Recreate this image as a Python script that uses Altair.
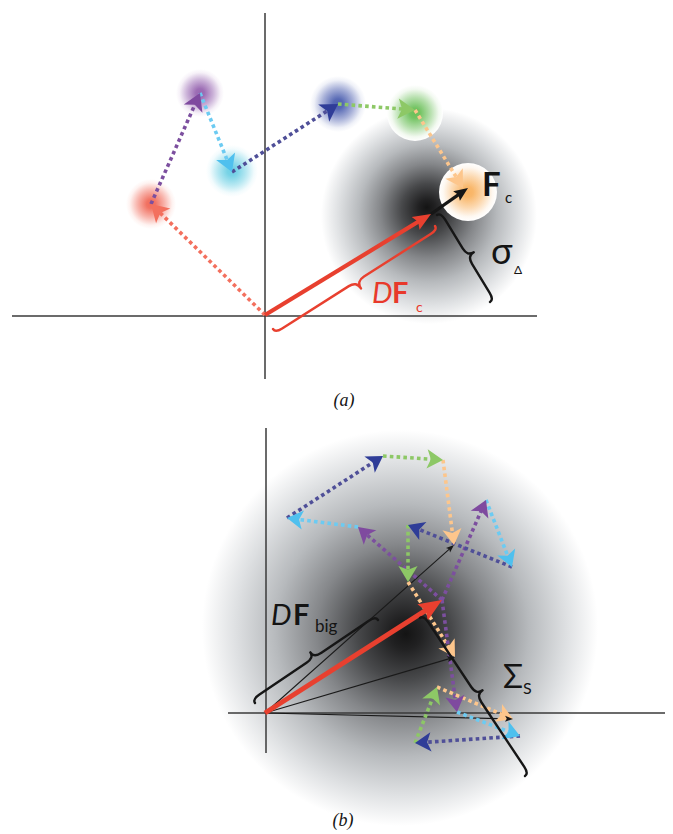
import math
import pandas as pd
import altair as alt

W, H = 657, 824
OX, OY = 8, 8

# ---------------- data (image pixel coordinates) ----------------
# axis lines: panel (a) horizontal, vertical; panel (b) horizontal, vertical
AX_X1 = [12, 265, 228, 266]
AX_Y1 = [316, 13, 713, 428]
AX_X2 = [537, 265, 671, 266]
AX_Y2 = [316, 379, 713, 753]

# big grey clouds
GRAY_X = [429, 400]
GRAY_Y = [216, 628]
GRAY_R = [108, 198]
GRAY_FX = [0.49, 0.515]
GRAY_FY = [0.46, 0.515]

# coloured soft discs of panel (a)
BLOB_X = [151, 200, 232, 338, 415, 468]
BLOB_Y = [204, 93, 171, 104, 113, 192]
BLOB_R = [25, 24, 26, 28, 28, 29]
BLOB_C = ["#ef5a48", "#8c55a8", "#5fcbe2", "#3b50a8", "#5ab846", "#f8ab52"]

# step colours: red, purple, cyan, slate, green, orange
STEP_LINE = ["#f3705e", "#7c4f9f", "#6ccbf2", "#4f4f98", "#8dc866", "#fdc68c"]
STEP_HEAD = ["#f3705e", "#7f4a9f", "#4fc0ee", "#2f3d98", "#8dc866", "#fdc68c"]

# random walk of panel (a), starting at the origin
WALK_A_X = [265, 151, 200, 232, 338, 415, 463]
WALK_A_Y = [315, 204, 93, 172, 104, 110, 188]

# three walks of panel (b), all starting at the tip of the red arrow
WALK_B1_X = [442, 358, 287, 383, 443, 454]
WALK_B1_Y = [600, 527, 518, 456, 460, 545]
WALK_B2_X = [442, 486, 512, 408, 408, 455]
WALK_B2_Y = [600, 500, 567, 525, 582, 657]
WALK_B3_X = [442, 457, 520, 415, 437, 513]
WALK_B3_Y = [600, 712, 736, 743, 687, 719]

# solid arrows: red (a), black (a), red (b)
SOLID_X1 = [265, 431, 265]
SOLID_Y1 = [315, 214, 713]
SOLID_X2 = [431, 468, 442]
SOLID_Y2 = [214, 188, 600]
SOLID_C = ["#e8402f", "#161616", "#e8402f"]
SOLID_W = [4.2, 3.2, 5.0]
SOLID_HEAD = [18, 14, 23]

# thin black arrows of panel (b) from the origin
THIN_X0, THIN_Y0 = 265, 713
THIN_X2 = [454, 455, 513]
THIN_Y2 = [545, 657, 719]

# curly braces: end points, colour, depth
BR_X1 = [435, 437, 255, 420]
BR_Y1 = [226, 215, 703, 618]
BR_X2 = [273, 490, 378, 525]
BR_Y2 = [329, 302, 620, 776]
BR_C = ["#e8402f", "#161616", "#161616", "#161616"]
BR_DEPTH = [13, 12, 11, 12]

# labels: text, x, y(baseline), size, weight, style, colour, font, align
LABELS = [
    ("F", 482, 196, 33, "bold", "normal", "#141414", "Lato", "left"),
    ("c", 505, 203, 15, "normal", "normal", "#141414", "Lato", "left"),
    ("σ", 491, 264, 36, "normal", "normal", "#141414", "Lato, DejaVu Sans", "left"),
    ("Δ", 514, 274, 12, "normal", "normal", "#141414", "Lato, DejaVu Sans", "left"),
    ("D", 372, 303, 29, "normal", "italic", "#e8392b", "Lato", "left"),
    ("F", 392, 303, 29, "bold", "normal", "#e8392b", "Lato", "left"),
    ("c", 416, 312, 14, "normal", "normal", "#e8392b", "Lato", "left"),
    ("(a)", 344, 406, 18, "normal", "italic", "#141414", "Liberation Serif", "center"),
    ("D", 271, 625, 29, "normal", "italic", "#141414", "Lato", "left"),
    ("F", 293, 625, 29, "bold", "normal", "#141414", "Lato", "left"),
    ("big", 315, 632, 17, "normal", "normal", "#141414", "Lato", "left"),
    ("Σ", 503, 688, 33, "normal", "normal", "#141414", "Lato, DejaVu Sans", "left"),
    ("S", 523, 694, 16, "normal", "normal", "#141414", "Lato", "left"),
    ("(b)", 343, 826, 18, "normal", "italic", "#141414", "Liberation Serif", "center"),
]

GRAY_STOPS = [(0.0, "#141414"), (0.08, "#212122"), (0.24, "#48494b"),
              (0.44, "#85878a"), (0.64, "#b7babd"), (0.84, "#dfe1e3"), (1.0, "#ffffff")]

# ---------------- helpers ----------------
xs = alt.Scale(domain=[OX, OX + W], nice=False, zero=False)
ys = alt.Scale(domain=[OY, OY + H], nice=False, zero=False, reverse=True)


def X(f):
    return alt.X(f, type="quantitative", scale=xs, axis=None)


def Y(f):
    return alt.Y(f, type="quantitative", scale=ys, axis=None)


def mix(c, t):
    r, g, b = int(c[1:3], 16), int(c[3:5], 16), int(c[5:7], 16)
    r, g, b = [round(v + (255 - v) * t) for v in (r, g, b)]
    return "#%02x%02x%02x" % (r, g, b)


def unit(x1, y1, x2, y2):
    dx, dy = x2 - x1, y2 - y1
    L = math.hypot(dx, dy)
    return dx / L, dy / L, L


def head_angle(ux, uy):
    return (math.degrees(math.atan2(ux, -uy)) + 360) % 360


DART = "M0,0 L0.6,1 L0,0.76 L-0.6,1 Z"
SOLID_SHAPE = "M0,0 L0.42,1 L0,0.84 L-0.42,1 Z"
THIN_SHAPE = "M0,0 L0.38,1 L0,0.78 L-0.38,1 Z"

layers = []

# grey clouds
for gx, gy, gr, fx, fy in zip(GRAY_X, GRAY_Y, GRAY_R, GRAY_FX, GRAY_FY):
    grad = alt.RadialGradient(
        gradient="radial",
        stops=[alt.GradientStop(offset=o, color=c) for o, c in GRAY_STOPS],
        x1=fx, y1=fy, r1=0, x2=0.5, y2=0.5, r2=0.5)
    layers.append(alt.Chart(pd.DataFrame({"x": [gx], "y": [gy]})).mark_circle(
        fill=grad, size=(2 * gr) ** 2, opacity=1, strokeWidth=0
    ).encode(x=X("x"), y=Y("y")))

# coloured discs
for bx, by, br, bc in zip(BLOB_X, BLOB_Y, BLOB_R, BLOB_C):
    stops = [(0.0, mix(bc, 0.1)), (0.18, mix(bc, 0.15)), (0.55, mix(bc, 0.55)),
             (0.85, mix(bc, 0.92)), (1.0, "#ffffff")]
    grad = alt.RadialGradient(
        gradient="radial",
        stops=[alt.GradientStop(offset=o, color=c) for o, c in stops],
        x1=0.5, y1=0.5, r1=0, x2=0.5, y2=0.5, r2=0.5)
    layers.append(alt.Chart(pd.DataFrame({"x": [bx], "y": [by]})).mark_circle(
        fill=grad, size=(2 * br) ** 2, opacity=1, strokeWidth=0
    ).encode(x=X("x"), y=Y("y")))

# axes
axes_df = pd.DataFrame({"x": AX_X1, "y": AX_Y1, "x2": AX_X2, "y2": AX_Y2})
layers.append(alt.Chart(axes_df).mark_rule(color="#3a3a3a", strokeWidth=1.5).encode(
    x=X("x"), y=Y("y"), x2="x2", y2="y2"))

# thin black lines (b)
thin_rows, thin_heads = [], []
for tx, ty in zip(THIN_X2, THIN_Y2):
    ux, uy, L = unit(THIN_X0, THIN_Y0, tx, ty)
    thin_rows.append(dict(x=THIN_X0, y=THIN_Y0, x2=tx - ux * 4, y2=ty - uy * 4))
    thin_heads.append(dict(x=tx, y=ty, a=head_angle(ux, uy)))
layers.append(alt.Chart(pd.DataFrame(thin_rows)).mark_rule(color="#1a1a1a", strokeWidth=1.1).encode(
    x=X("x"), y=Y("y"), x2="x2", y2="y2"))

# dotted random walks
seg_rows, head_rows = [], []


def add_walk(wx, wy, line_cols, head_cols, hl):
    for i in range(len(wx) - 1):
        x1, y1, x2, y2 = wx[i], wy[i], wx[i + 1], wy[i + 1]
        ux, uy, L = unit(x1, y1, x2, y2)
        seg_rows.append(dict(x=x1, y=y1, x2=x2 - ux * 6, y2=y2 - uy * 6, c=line_cols[i]))
        head_rows.append(dict(x=x2, y=y2, a=head_angle(ux, uy), s=(2 * hl) ** 2, c=head_cols[i]))


add_walk(WALK_A_X, WALK_A_Y, STEP_LINE, STEP_HEAD, 17)
for wx, wy in [(WALK_B1_X, WALK_B1_Y), (WALK_B2_X, WALK_B2_Y), (WALK_B3_X, WALK_B3_Y)]:
    add_walk(wx, wy, STEP_LINE[1:], STEP_HEAD[1:], 16)

layers.append(alt.Chart(pd.DataFrame(seg_rows)).mark_rule(
    strokeDash=[3.6, 3.2], strokeWidth=3.6, strokeCap="butt").encode(
    x=X("x"), y=Y("y"), x2="x2", y2="y2", color=alt.Color("c:N", scale=None)))
layers.append(alt.Chart(pd.DataFrame(head_rows)).mark_point(
    shape=DART, filled=True, opacity=1, strokeWidth=0).encode(
    x=X("x"), y=Y("y"), angle=alt.Angle("a:Q", scale=None),
    size=alt.Size("s:Q", scale=None), color=alt.Color("c:N", scale=None)))

# thin arrow heads
layers.append(alt.Chart(pd.DataFrame(thin_heads)).mark_point(
    shape=THIN_SHAPE, filled=True, opacity=1, strokeWidth=0, color="#1a1a1a", size=(2 * 8) ** 2).encode(
    x=X("x"), y=Y("y"), angle=alt.Angle("a:Q", scale=None)))

# solid arrows
sol_rows, sol_heads = [], []
for x1, y1, x2, y2, c, w, hl in zip(SOLID_X1, SOLID_Y1, SOLID_X2, SOLID_Y2, SOLID_C, SOLID_W, SOLID_HEAD):
    ux, uy, L = unit(x1, y1, x2, y2)
    sol_rows.append(dict(x=x1, y=y1, x2=x2 - ux * hl * 0.7, y2=y2 - uy * hl * 0.7, c=c, w=w))
    sol_heads.append(dict(x=x2, y=y2, a=head_angle(ux, uy), s=(2 * hl) ** 2, c=c))
layers.append(alt.Chart(pd.DataFrame(sol_rows)).mark_rule(strokeCap="butt").encode(
    x=X("x"), y=Y("y"), x2="x2", y2="y2", color=alt.Color("c:N", scale=None),
    strokeWidth=alt.StrokeWidth("w:Q", scale=None)))
layers.append(alt.Chart(pd.DataFrame(sol_heads)).mark_point(
    shape=SOLID_SHAPE, filled=True, opacity=1, strokeWidth=0).encode(
    x=X("x"), y=Y("y"), angle=alt.Angle("a:Q", scale=None),
    size=alt.Size("s:Q", scale=None), color=alt.Color("c:N", scale=None)))

# curly braces
for x1, y1, x2, y2, c, d in zip(BR_X1, BR_Y1, BR_X2, BR_Y2, BR_C, BR_DEPTH):
    dx, dy = x2 - x1, y2 - y1
    L = math.hypot(dx, dy)
    s = L / 2
    hx = 4.5 / s
    cx = d / s
    hy = 8 / s
    cy = 9 / s
    path = (f"M0,-1 Q{hx:.4f},-1 {hx:.4f},{-(1 - hy):.4f} L{hx:.4f},{-cy:.4f} "
            f"Q{hx:.4f},0 {cx:.4f},0 Q{hx:.4f},0 {hx:.4f},{cy:.4f} "
            f"L{hx:.4f},{1 - hy:.4f} Q{hx:.4f},1 0,1")
    ang = (math.degrees(math.atan2(-dx, dy)) + 360) % 360
    layers.append(alt.Chart(pd.DataFrame({"x": [(x1 + x2) / 2], "y": [(y1 + y2) / 2]})).mark_point(
        shape=path, filled=False, color=c, strokeWidth=2.4, opacity=1, size=L * L,
        angle=ang, strokeCap="round", strokeJoin="round"
    ).encode(x=X("x"), y=Y("y")))

# labels
for t, lx, ly, fs, fw, fst, col, font, al in LABELS:
    layers.append(alt.Chart(pd.DataFrame({"x": [lx], "y": [ly]})).mark_text(
        text=t, fontSize=fs, fontWeight=fw, fontStyle=fst, color=col, font=font,
        align=al, baseline="alphabetic"
    ).encode(x=X("x"), y=Y("y")))

chart = alt.layer(*layers).properties(
    width=W, height=H, padding=0, background="white",
    autosize=alt.AutoSizeParams(type="none")
).configure_view(stroke=None)

chart.save("out.html", embed_options={"renderer": "svg", "actions": False})
